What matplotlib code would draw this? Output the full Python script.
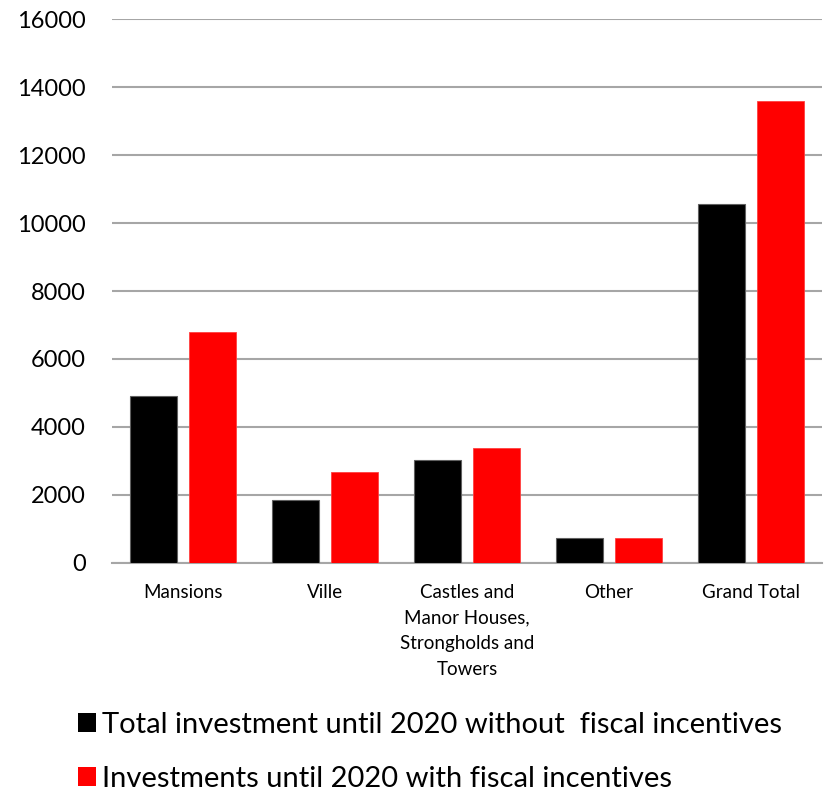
import numpy as np
import matplotlib.pyplot as plt
from matplotlib.patches import Patch

plt.rcParams['font.family'] = ['Lato', 'DejaVu Sans']

categories = ['Mansions', 'Ville',
              'Castles and\nManor Houses,\nStrongholds and\nTowers',
              'Other', 'Grand Total']
without_incentives = [4920, 1860, 3030, 725, 10550]
with_incentives = [6800, 2670, 3370, 735, 13590]
series_labels = ['Total investment until 2020 without  fiscal incentives',
                 'Investments until 2020 with fiscal incentives']
yticks = [0, 2000, 4000, 6000, 8000, 10000, 12000, 14000, 16000]

fig = plt.figure(figsize=(8.25, 7.94), dpi=100)
ax = fig.add_axes([0.1358, 0.291, 0.8606, 0.685])

x = np.arange(len(categories))
w = 0.33
off = 0.208
ax.bar(x - off, without_incentives, w, color='black', edgecolor='#606060', linewidth=0.8, zorder=3)
ax.bar(x + off, with_incentives, w, color='#ff0000', edgecolor='#ff4040', linewidth=0.6, zorder=3)

ax.set_xlim(-0.5, len(categories) - 0.5)
ax.set_ylim(0, 16000)
ax.set_yticks(yticks)
ax.set_yticklabels([str(v) for v in yticks], fontsize=17)
ax.set_xticks(x)
ax.set_xticklabels(categories, fontsize=13.5, linespacing=1.62, va='top')
ax.tick_params(axis='y', length=0, pad=19)
ax.tick_params(axis='x', length=0, pad=15)

ax.grid(axis='y', color='#a6a6a6', linewidth=1.5, zorder=0)
for s in ['top', 'right', 'left']:
    ax.spines[s].set_visible(False)
ax.spines['bottom'].set_color('#a6a6a6')
ax.spines['bottom'].set_linewidth(1.5)

handles = [Patch(facecolor='black'), Patch(facecolor='#ff0000')]
fig.legend(handles, series_labels, loc='upper left', bbox_to_anchor=(0.08, 0.118),
           frameon=False, fontsize=21, handlelength=0.62, handleheight=0.62,
           handletextpad=0.22, labelspacing=0.95, borderaxespad=0)

fig.savefig('out.png', dpi=100)
